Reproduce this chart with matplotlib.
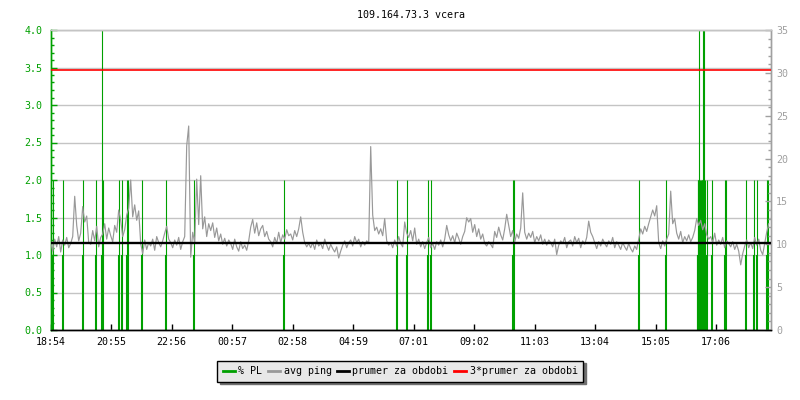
import matplotlib
matplotlib.use('Agg')
import matplotlib.pyplot as plt
from matplotlib.lines import Line2D
from matplotlib.ticker import MultipleLocator, FormatStrFormatter
import numpy as np

plt.rcParams['font.family'] = ['DejaVu Sans Mono']
plt.rcParams['font.size'] = 7.2

title = "109.164.73.3 vcera"
tick_minutes = [0, 121, 242, 363, 484, 605, 726, 847, 968, 1089, 1210, 1331]
tick_labels = ['18:54', '20:55', '22:56', '00:57', '02:58', '04:59',
               '07:01', '09:02', '11:03', '13:04', '15:05', '17:06']

ping_step_min = 4
ping_ms = [
    10.3, 9.2, 10.6, 9.7, 10.9, 9.1, 10.5, 9.9, 10.8, 9.6,
    10.1, 10.9, 15.6, 12.2, 10.4, 11.3, 14.4, 12.6, 13.3, 10.2,
    10.0, 11.6, 10.4, 12.1, 9.7, 10.8, 11.2, 12.4, 10.6, 11.9,
    11.0, 10.3, 12.2, 11.4, 14.0, 12.8, 10.9, 11.7, 13.4, 14.2,
    17.5, 13.2, 14.6, 12.8, 13.9, 10.1, 8.9, 10.5, 9.4, 10.2,
    9.8, 10.6, 9.3, 10.9, 10.2, 9.7, 10.4, 11.3, 12.1, 10.6,
    10.2, 9.6, 10.5, 9.9, 10.8, 9.4, 10.3, 10.9, 21.5, 23.8,
    8.5, 11.4, 10.2, 17.6, 12.3, 18.0, 11.8, 13.2, 10.9, 12.4,
    11.6, 12.5, 10.8, 11.9, 10.4, 11.2, 10.0, 10.7, 9.8, 10.5,
    10.1, 9.4, 10.6, 9.7, 9.2, 10.3, 9.5, 9.9, 9.3, 10.4,
    12.0, 12.9, 11.3, 12.5, 11.0, 11.8, 12.2, 10.9, 11.5, 10.6,
    10.3, 9.7, 10.8, 10.1, 11.4, 10.2, 11.1, 10.6, 11.7, 11.0,
    11.2, 10.5, 11.6, 10.9, 11.8, 13.2, 11.4, 10.2, 9.7, 10.1,
    9.6, 10.2, 9.4, 10.5, 9.8, 10.1, 9.5, 10.6, 9.9, 9.3,
    10.0, 9.5, 9.1, 9.7, 8.4, 9.2, 9.9, 10.4, 9.6, 10.2,
    10.5, 9.8, 10.9, 10.2, 10.6, 9.7, 10.3, 9.9, 10.4, 10.1,
    21.4, 13.4, 11.6, 12.0, 11.2, 11.8, 11.0, 13.0, 10.4, 9.9,
    10.2, 9.6, 10.5, 9.8, 10.9, 10.1, 9.7, 12.6, 11.3, 10.8,
    11.6, 10.4, 11.9, 10.0, 10.6, 9.7, 10.3, 9.5, 10.2, 10.8,
    9.6, 10.1, 9.4, 10.3, 9.9, 10.5, 9.7, 10.6, 12.2, 11.1,
    10.4, 11.0, 10.2, 11.3, 10.7, 10.0, 10.9, 11.5, 13.1, 12.6,
    13.0, 11.4, 12.3, 10.9, 11.8, 10.6, 11.2, 10.1, 9.8, 10.3,
    10.0, 9.6, 11.5, 10.8, 12.0, 11.1, 10.5, 11.8, 13.5, 12.2,
    10.9, 11.6, 10.3, 11.2, 10.7, 11.9, 16.0, 11.4, 10.6, 11.3,
    10.8, 11.5, 10.2, 10.9, 10.4, 11.1, 10.0, 10.6, 9.9, 10.5,
    10.2, 9.7, 10.6, 8.8, 9.9, 10.4, 10.1, 10.8, 9.6, 10.3,
    10.5, 9.8, 10.9, 10.2, 10.7, 9.6, 10.4, 10.0, 10.8, 12.7,
    11.4, 10.9, 10.2, 9.5, 10.3, 9.8, 10.6, 10.1, 9.7, 10.4,
    10.0, 10.8, 9.6, 10.3, 9.9, 9.4, 10.2, 9.7, 9.3, 10.1,
    9.5, 9.1, 9.8, 9.4, 10.6, 11.8, 11.2, 12.1, 11.5, 12.4,
    13.2, 14.0, 13.3, 14.5, 10.2, 9.5, 10.4, 9.8, 10.6, 11.2,
    16.2, 12.4, 13.0, 11.3, 10.6, 11.5, 10.2, 10.9, 10.4, 11.1,
    10.3, 10.8, 11.6, 13.0, 12.2, 12.8, 11.7, 12.4, 11.1, 10.6,
    10.9, 10.2, 11.3, 9.9, 10.5, 10.0, 10.8, 9.6, 10.4, 10.1,
    9.7, 10.3, 9.4, 10.0, 9.2, 7.6, 8.9, 9.8, 10.5, 9.6,
    10.2, 9.5, 10.8, 9.9, 10.6, 9.3, 8.8, 10.1, 11.4, 12.4,
]
ping_minutes = np.arange(len(ping_ms)) * ping_step_min

pl_minutes = [4, 25, 64, 91, 103, 105, 137, 143, 153, 155, 182, 231, 287, 466,
              693, 712, 754, 760, 925, 927, 1177, 1231,
              1294, 1295, 1296, 1297, 1298, 1300, 1302, 1303, 1304, 1305, 1306, 1308,
              1313, 1322, 1349, 1351, 1390, 1407, 1412, 1432, 1435]
pl_percent = [2, 2, 2, 2, 4, 2, 2, 2, 2, 2, 2, 2, 2, 2,
              2, 2, 2, 2, 2, 2, 2, 2,
              2, 2, 2, 4, 2, 2, 2, 2, 2, 4, 4, 2,
              2, 2, 2, 2, 2, 2, 2, 2, 2]

avg_ping_ms = 10.12

GREEN = '#00a000'
GRAY = '#999999'
AX2C = '#a0a0a0'
GRID = '#c4c4c4'

fig = plt.figure(figsize=(8, 4), dpi=100)
ax = fig.add_axes([50.7 / 800, 70 / 400, 720 / 800, 300 / 400])
ax2 = ax.twinx()

ax.set_xlim(0, 1440)
ax.set_ylim(0, 4)
ax2.set_ylim(0, 35)

# packet loss bars: lower part thicker, upper part thin
pl_lower = [min(v, 1) for v in pl_percent]
ax.vlines(pl_minutes, 0, pl_lower, colors=GREEN, linewidth=1.5, zorder=2)
ax.vlines(pl_minutes, pl_lower, pl_percent, colors=GREEN, linewidth=0.8, zorder=2)

# grid
ax.yaxis.set_major_locator(MultipleLocator(0.5))
ax.yaxis.set_minor_locator(MultipleLocator(0.1))
ax.yaxis.set_major_formatter(FormatStrFormatter('%.1f'))
ax.grid(axis='y', which='major', color=GRID, linewidth=1.0, zorder=0)
ax.set_axisbelow(True)

ax2.plot(ping_minutes, ping_ms, color=GRAY, linewidth=0.85, zorder=3)
ax2.axhline(avg_ping_ms, color='black', linewidth=1.7, zorder=4)
ax2.axhline(3 * avg_ping_ms, color='#ff0000', linewidth=1.2, zorder=4)

ax2.yaxis.set_major_locator(MultipleLocator(5))
ax2.yaxis.set_minor_locator(MultipleLocator(1))

ax.set_xticks(tick_minutes)
ax.set_xticklabels(tick_labels)
ax.tick_params(axis='x', direction='in', length=4, width=1, color='black',
               labelcolor='black', pad=5, labelsize=7.2)
ax.tick_params(axis='y', which='major', direction='in', length=4, width=1,
               color=GREEN, labelcolor=GREEN, pad=6, labelsize=7.2)
ax.tick_params(axis='y', which='minor', direction='in', length=2.5, width=1,
               color=GREEN)
ax2.tick_params(axis='y', which='major', direction='in', length=4, width=1,
                color=AX2C, labelcolor=AX2C, pad=4, labelsize=7.2)
ax2.tick_params(axis='y', which='minor', direction='in', length=2.5, width=1,
                color=AX2C)

for a in (ax, ax2):
    a.spines['top'].set_color(GRID)
    a.spines['bottom'].set_color('black')
    a.spines['left'].set_color(GREEN)
    a.spines['right'].set_color(AX2C)
    for s in a.spines.values():
        s.set_linewidth(1.0)

ax.set_title(title, fontsize=7.2, pad=9)

handles = [Line2D([], [], color=GREEN, linewidth=2),
           Line2D([], [], color=GRAY, linewidth=2),
           Line2D([], [], color='black', linewidth=2),
           Line2D([], [], color='#ff0000', linewidth=2)]
labels = ['% PL', 'avg ping', 'prumer za obdobi', '3*prumer za obdobi']
leg = fig.legend(handles, labels, loc='center', bbox_to_anchor=(0.5, 1 - 371 / 400),
                 ncol=4, frameon=True, fancybox=False,
                 shadow={'facecolor': '#707070', 'edgecolor': '#707070', 'alpha': 1},
                 handlelength=1.2, handletextpad=0.4, columnspacing=0.5,
                 borderpad=0.55, fontsize=7.2)
leg.get_frame().set_facecolor('#e8e8e8')
leg.get_frame().set_edgecolor('black')
leg.get_frame().set_linewidth(1.0)
leg.get_frame().set_alpha(1)

fig.savefig('out.png', dpi=100)
